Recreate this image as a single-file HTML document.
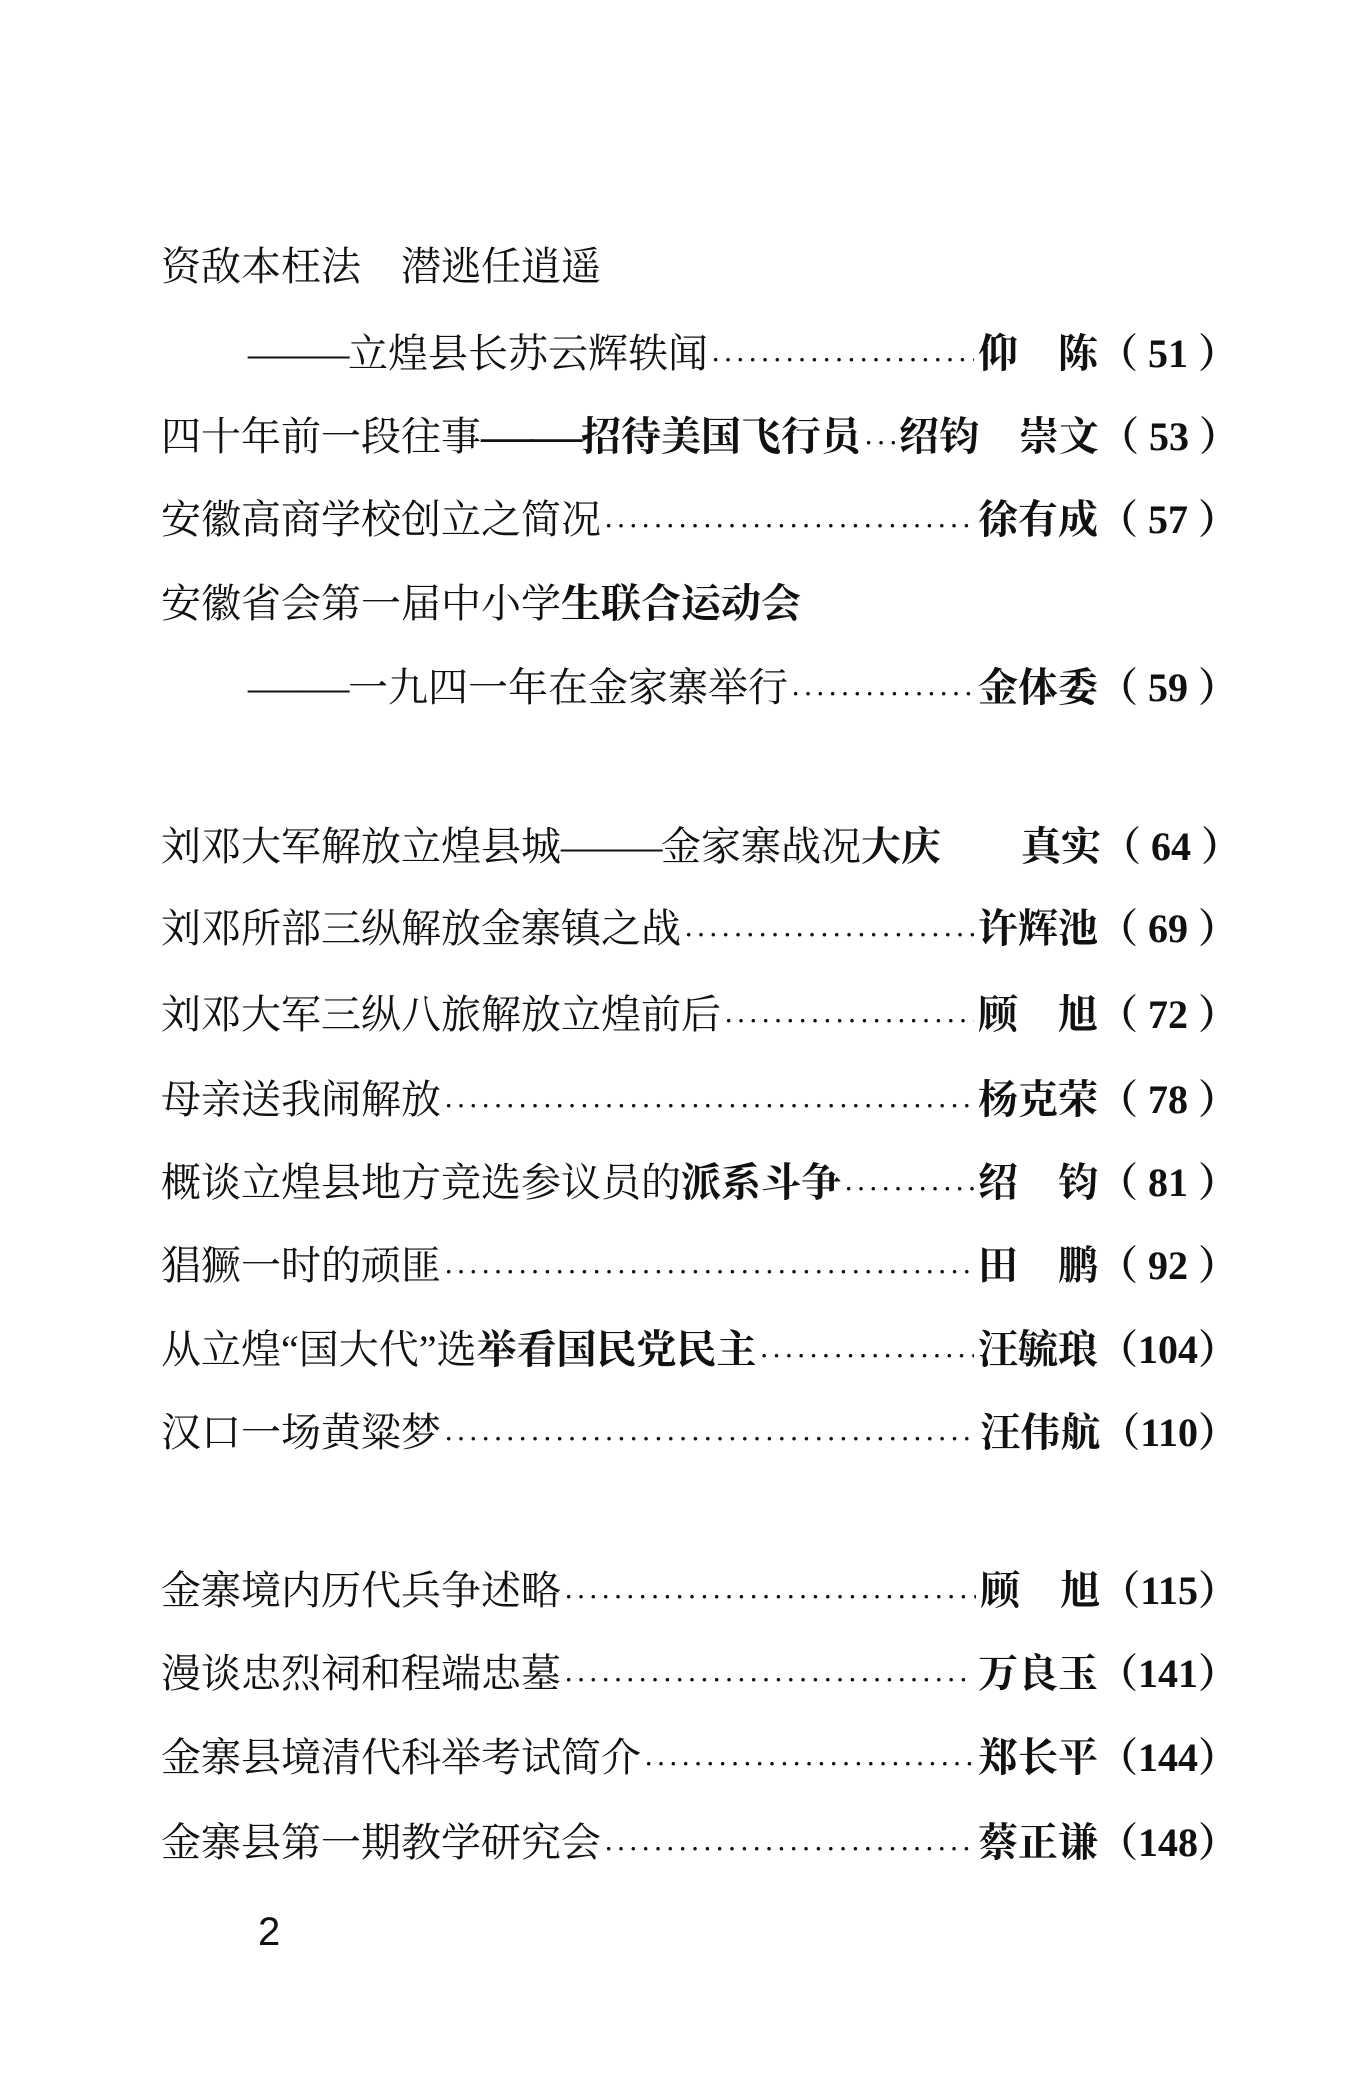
<!DOCTYPE html>
<html><head><meta charset="utf-8"><style>
body{margin:0;width:1370px;height:2085px;background:#fff;position:relative;overflow:hidden;font-family:"Liberation Serif","Noto Serif CJK SC",serif;color:#111}
.l{position:absolute;left:161px;width:1077px;display:flex;align-items:baseline;font-size:40px;line-height:46px;white-space:nowrap}
.i{left:248px;width:990px}
.d{flex:1;overflow:hidden;margin:0 4px;letter-spacing:5px;font-size:22px;font-weight:bold}
.d::before{content:"··································································································································"}
.r{font-weight:bold}
.b{font-weight:bold}
.dash{letter-spacing:-2px;transform:scaleX(1.3);display:inline-block;transform-origin:left;margin-right:24px}
</style></head><body>
<div class="l" style="top:244px">资敌本枉法　潜逃任逍遥</div>
<div class="l i" style="top:331px"><span class="dash">——</span>立煌县长苏云辉轶闻<span class="d"></span><span class="r">仰　陈（ 51 ）</span></div>
<div class="l" style="top:414px">四十年前一段往事<span class="b"><span class="dash">——</span>招待美国飞行员</span><span class="d" style="flex:0 0 30px"></span><span class="r">绍钧　崇文（ 53 ）</span></div>
<div class="l" style="top:497px">安徽高商学校创立之简况<span class="d"></span><span class="r">徐有成（ 57 ）</span></div>
<div class="l" style="top:581px">安徽省会第一届中小学<span class="b">生联合运动会</span></div>
<div class="l i" style="top:665px"><span class="dash">——</span>一九四一年在金家寨举行<span class="d"></span><span class="r">金体委（ 59 ）</span></div>
<div class="l" style="top:824px">刘邓大军解放立煌县城<span class="dash">——</span>金家寨战况<span style="flex:1"></span><span class="r">大庆　　真实（ 64 ）</span></div>
<div class="l" style="top:906px">刘邓所部三纵解放金寨镇之战<span class="d"></span><span class="r">许辉池（ 69 ）</span></div>
<div class="l" style="top:992px">刘邓大军三纵八旅解放立煌前后<span class="d"></span><span class="r">顾　旭（ 72 ）</span></div>
<div class="l" style="top:1077px">母亲送我闹解放<span class="d"></span><span class="r">杨克荣（ 78 ）</span></div>
<div class="l" style="top:1160px">概谈立煌县地方竞选参议员的<span class="b">派系斗争</span><span class="d"></span><span class="r">绍　钧（ 81 ）</span></div>
<div class="l" style="top:1243px">猖獗一时的顽匪<span class="d"></span><span class="r">田　鹏（ 92 ）</span></div>
<div class="l" style="top:1327px">从立煌“国大代”选<span class="b">举看国民党民主</span><span class="d"></span><span class="r">汪毓琅（104）</span></div>
<div class="l" style="top:1410px">汉口一场黄粱梦<span class="d"></span><span class="r">汪伟航（110）</span></div>
<div class="l" style="top:1568px">金寨境内历代兵争述略<span class="d"></span><span class="r">顾　旭（115）</span></div>
<div class="l" style="top:1651px">漫谈忠烈祠和程端忠墓<span class="d"></span><span class="r">万良玉（141）</span></div>
<div class="l" style="top:1735px">金寨县境清代科举考试简介<span class="d"></span><span class="r">郑长平（144）</span></div>
<div class="l" style="top:1820px">金寨县第一期教学研究会<span class="d"></span><span class="r">蔡正谦（148）</span></div>
<div style="position:absolute;left:258px;top:1910px;font-size:40px;font-family:'Liberation Sans',sans-serif">2</div>
</body></html>
